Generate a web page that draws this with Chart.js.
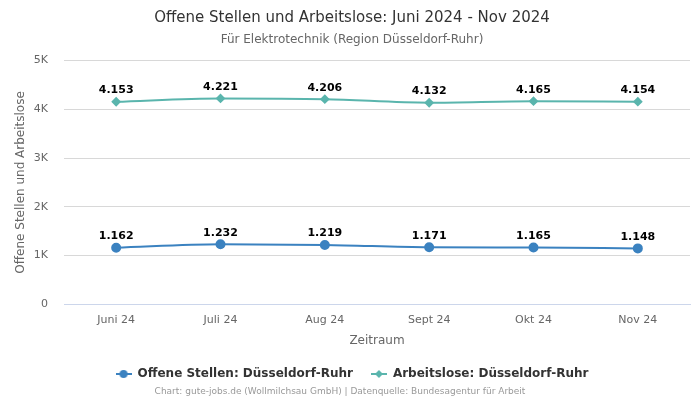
<!DOCTYPE html>
<html><head><meta charset="utf-8">
<script src="https://cdn.jsdelivr.net/npm/chart.js@4"></script>
<style>html,body{margin:0;padding:0;background:#fff}#w{width:700px;height:400px}</style>
</head><body><div id="w"><canvas id="c" width="700" height="400"></canvas></div>
<script>
const categories = ["Juni 24", "Juli 24", "Aug 24", "Sept 24", "Okt 24", "Nov 24"];
const offeneStellen = [1162, 1232, 1219, 1171, 1165, 1148];
const arbeitslose = [4153, 4221, 4206, 4132, 4165, 4154];
const yTicks = [0, 1000, 2000, 3000, 4000, 5000];
const yTickLabels = ["0", "1K", "2K", "3K", "4K", "5K"];

const BLUE = "#3b82c0";
const TEAL = "#5ab5ad";
const FONT = "'DejaVu Sans', sans-serif";

function legendIcon(color, shape) {
  const cv = document.createElement('canvas');
  cv.width = 16; cv.height = 10;
  const x = cv.getContext('2d');
  x.strokeStyle = color; x.lineWidth = 2;
  x.beginPath(); x.moveTo(0, 5); x.lineTo(16, 5); x.stroke();
  x.fillStyle = color;
  x.beginPath();
  if (shape === 'circle') { x.arc(8, 5, 4, 0, Math.PI * 2); }
  else { x.moveTo(8, 1); x.lineTo(12, 5); x.lineTo(8, 9); x.lineTo(4, 5); x.closePath(); }
  x.fill();
  return cv;
}

const fmt = v => v.toLocaleString('de-DE');

const labelPlugin = {
  id: 'valueLabels',
  afterDatasetsDraw(chart) {
    const ctx = chart.ctx;
    ctx.save();
    ctx.font = "bold 11px " + FONT;
    ctx.fillStyle = "#000";
    ctx.textAlign = "center";
    ctx.textBaseline = "bottom";
    chart.data.datasets.forEach((ds, i) => {
      chart.getDatasetMeta(i).data.forEach((pt, j) => {
        ctx.fillText(fmt(ds.data[j]), pt.x, pt.y - 6);
      });
    });
    ctx.restore();
  }
};

const creditPlugin = {
  id: 'credit',
  afterDraw(chart) {
    const ctx = chart.ctx;
    ctx.save();
    ctx.font = "9px " + FONT;
    ctx.fillStyle = "#999";
    ctx.textAlign = "center";
    ctx.textBaseline = "middle";
    ctx.fillText("Chart: gute-jobs.de (Wollmilchsau GmbH) | Datenquelle: Bundesagentur für Arbeit", chart.width / 2 - 10, 392);
    ctx.restore();
  }
};

new Chart(document.getElementById('c'), {
  type: 'line',
  data: {
    labels: categories,
    datasets: [
      {
        label: "Offene Stellen: Düsseldorf-Ruhr",
        data: offeneStellen,
        borderColor: BLUE, backgroundColor: BLUE,
        pointStyle: 'circle', pointRadius: 4, pointHoverRadius: 4,
        borderWidth: 2, tension: 0.4, cubicInterpolationMode: 'monotone'
      },
      {
        label: "Arbeitslose: Düsseldorf-Ruhr",
        data: arbeitslose,
        borderColor: TEAL, backgroundColor: TEAL,
        pointStyle: 'rectRot', pointRadius: 3.5, pointHoverRadius: 3.5,
        borderWidth: 2, tension: 0.4, cubicInterpolationMode: 'monotone'
      }
    ]
  },
  options: {
    responsive: false,
    animation: false,
    devicePixelRatio: 1,
    layout: { padding: { left: 14, right: 10, top: 0, bottom: 10 } },
    plugins: {
      title: {
        display: true, text: "Offene Stellen und Arbeitslose: Juni 2024 - Nov 2024",
        color: "#333", font: { family: FONT, size: 15, weight: 'normal' },
        padding: { top: 9, bottom: 4 }
      },
      subtitle: {
        display: true, text: "Für Elektrotechnik (Region Düsseldorf-Ruhr)",
        color: "#666", font: { family: FONT, size: 12 },
        padding: { top: 2, bottom: 13 }
      },
      legend: {
        position: 'bottom',
        labels: {
          color: "#333", font: { family: FONT, size: 12, weight: 'bold' },
          usePointStyle: true, pointStyleWidth: 16, boxWidth: 16, boxHeight: 10, padding: 18,
          generateLabels(chart) {
            return chart.data.datasets.map((ds, i) => ({
              text: ds.label, fillStyle: ds.borderColor, strokeStyle: ds.borderColor,
              fontColor: "#333",
              pointStyle: legendIcon(ds.borderColor, i === 0 ? 'circle' : 'diamond'),
              datasetIndex: i, hidden: !chart.isDatasetVisible(i), lineWidth: 0
            }));
          }
        }
      },
      tooltip: { enabled: false }
    },
    scales: {
      x: {
        offset: true,
        grid: { display: false, drawTicks: false },
        border: { color: "#ccd6eb" },
        ticks: { color: "#666", font: { family: FONT, size: 11 }, padding: 9 },
        title: { display: true, text: "Zeitraum", color: "#666", font: { family: FONT, size: 12 }, padding: { top: -2, bottom: 2 } }
      },
      y: {
        min: 0, max: 5000,
        afterBuildTicks(axis) { axis.ticks = yTicks.map(v => ({ value: v })); },
        afterFit(axis) { axis.width = 50; },
        grid: { color: "#d8d8d8", drawTicks: false },
        border: { display: false },
        ticks: {
          color: "#666", font: { family: FONT, size: 11 }, padding: 16,
          callback: (v) => yTickLabels[yTicks.indexOf(v)]
        },
        title: { display: true, text: "Offene Stellen und Arbeitslose", color: "#666", font: { family: FONT, size: 12 }, padding: { top: 0, bottom: 4 } }
      }
    }
  },
  plugins: [labelPlugin, creditPlugin]
});
</script>
</body></html>
